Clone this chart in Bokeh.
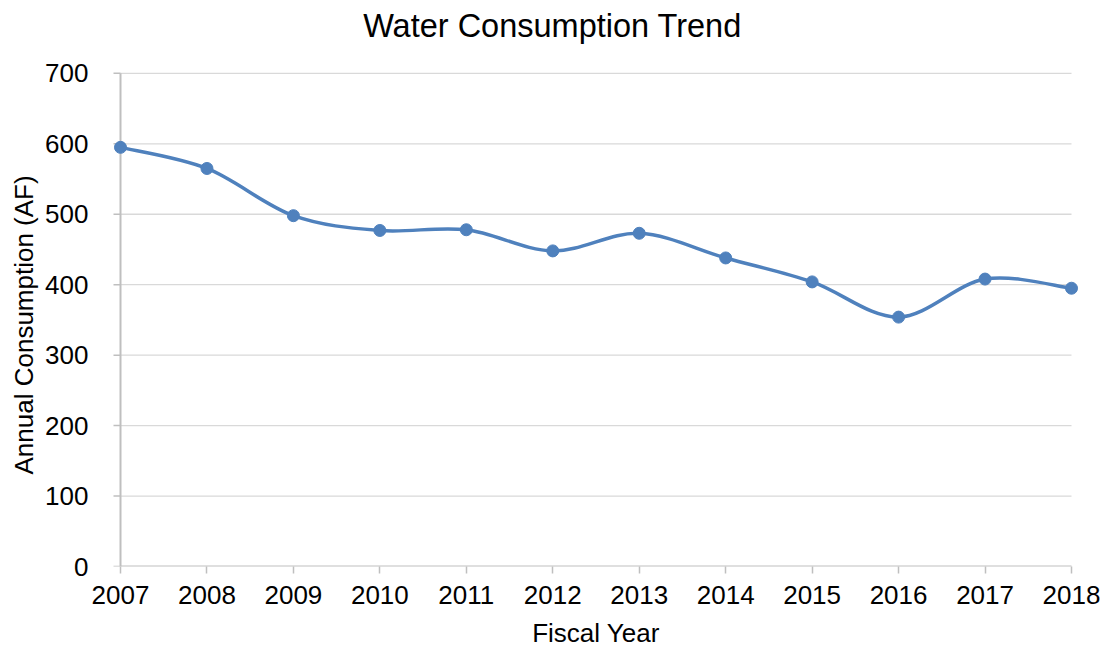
import numpy as np
from bokeh.plotting import figure
from bokeh.models import Range1d, FixedTicker, ColumnDataSource, Label, Title
from bokeh.embed import file_html
from bokeh.resources import INLINE

# ---- data ----
years = [2007, 2008, 2009, 2010, 2011, 2012, 2013, 2014, 2015, 2016, 2017, 2018]
consumption = [595, 565, 498, 477, 478, 448, 473, 438, 404, 354, 408, 395]
y_ticks = [0, 100, 200, 300, 400, 500, 600, 700]
title_text = "Water Consumption Trend"
x_label = "Fiscal Year"
y_label = "Annual Consumption (AF)"

FONT = "Liberation Sans"
BLUE = "#4F81BD"
AXIS_GRAY = "#BFBFBF"
GRID_GRAY = "#D9D9D9"

# ---- layout (pixels) ----
W, H = 1100, 650
B_LEFT, B_RIGHT, B_TOP, B_BOTTOM = 107, 16, 0, 83
PLOT_TOP = 73          # where the 700 gridline sits
AXIS_X = 120           # where the first category sits
LAST_X = 1071          # where the last category sits
TITLE_CX, TITLE_MID = 552, 25.5

x_first, x_last = years[0], years[-1]
px_per_year = (LAST_X - AXIS_X) / (x_last - x_first)
x_start = x_first - (AXIS_X - B_LEFT) / px_per_year
x_end = x_last + (W - B_RIGHT - LAST_X) / px_per_year
frame_h = H - B_TOP - B_BOTTOM
units_per_px = (y_ticks[-1] - y_ticks[0]) / (frame_h - (PLOT_TOP - B_TOP))
y_end = y_ticks[0] + frame_h * units_per_px
tick_len = 7 / px_per_year

p = figure(width=W, height=H, output_backend="svg", toolbar_location=None,
           x_range=Range1d(x_start, x_end),
           y_range=Range1d(y_ticks[0], y_end),
           min_border_left=B_LEFT, min_border_right=B_RIGHT,
           min_border_top=B_TOP, min_border_bottom=B_BOTTOM)
p.outline_line_color = None
p.background_fill_color = "white"
p.border_fill_color = "white"
p.xgrid.visible = False
p.ygrid.visible = False

# x axis
xa = p.xaxis[0]
xa.ticker = FixedTicker(ticks=years)
xa.axis_line_color = None
xa.major_tick_line_color = AXIS_GRAY
xa.major_tick_line_width = 1.5
xa.major_tick_out = 7
xa.major_tick_in = 0
xa.minor_tick_line_color = None
xa.major_label_standoff = 12
xa.major_label_text_font = FONT
xa.major_label_text_font_size = "26px"
xa.major_label_text_color = "black"
xa.axis_label = x_label
xa.axis_label_standoff = 11
xa.axis_label_text_font = FONT
xa.axis_label_text_font_size = "26px"
xa.axis_label_text_font_style = "normal"
xa.axis_label_text_color = "black"

# y axis
ya = p.yaxis[0]
ya.ticker = FixedTicker(ticks=y_ticks)
ya.axis_line_color = None
ya.major_tick_line_color = None
ya.major_tick_out = 0
ya.major_tick_in = 0
ya.minor_tick_line_color = None
ya.major_label_standoff = 19
ya.major_label_text_font = FONT
ya.major_label_text_font_size = "26px"
ya.major_label_text_color = "black"

# y-axis title, centred on the 0..700 value area
ylab = Title(text=y_label, align="left", vertical_align="bottom",
             offset=92, standoff=7, text_font=FONT, text_font_size="26px",
             text_font_style="normal", text_color="black")
p.add_layout(ylab, "left")

# chart title (centred over the whole chart)
title = Label(x=x_first + (TITLE_CX - AXIS_X) / px_per_year,
              y=y_ticks[0] + (H - B_BOTTOM - TITLE_MID) * units_per_px,
              text=title_text, text_font=FONT, text_font_size="32.5px",
              text_color="black", text_align="center",
              text_baseline="middle")
p.add_layout(title)

# gridlines (from axis to last category)
grid_y = y_ticks[1:]
p.segment(x0=[x_first] * len(grid_y), x1=[x_last] * len(grid_y),
          y0=grid_y, y1=grid_y, line_color=GRID_GRAY, line_width=1.3)

# y-axis tick marks
p.segment(x0=[x_first - tick_len] * len(y_ticks), x1=[x_first] * len(y_ticks),
          y0=y_ticks, y1=y_ticks, line_color=AXIS_GRAY, line_width=1.5)

# axis lines
p.segment(x0=[x_first, x_first], x1=[x_last, x_first],
          y0=[y_ticks[0], y_ticks[0]], y1=[y_ticks[0], y_ticks[-1]],
          line_color=AXIS_GRAY, line_width=2)

# smoothed line (Catmull-Rom style Bezier segments through the data points)
xs = np.array(years, dtype=float)
ys = np.array(consumption, dtype=float)
xp = np.r_[xs[0], xs[:-1]]
yp = np.r_[ys[0], ys[:-1]]
xn = np.r_[xs[1:], xs[-1]]
yn = np.r_[ys[1:], ys[-1]]
tx = (xn - xp) / 6.0
ty = (yn - yp) / 6.0
bez = ColumnDataSource(dict(
    x0=xs[:-1], y0=ys[:-1], x1=xs[1:], y1=ys[1:],
    cx0=xs[:-1] + tx[:-1], cy0=ys[:-1] + ty[:-1],
    cx1=xs[1:] - tx[1:], cy1=ys[1:] - ty[1:],
))
p.bezier(x0="x0", y0="y0", x1="x1", y1="y1", cx0="cx0", cy0="cy0",
         cx1="cx1", cy1="cy1", source=bez, line_color=BLUE, line_width=3.5)

p.scatter(x=years, y=consumption, size=12, fill_color=BLUE, line_color=BLUE)

open("out.html", "w").write(file_html(p, INLINE))
